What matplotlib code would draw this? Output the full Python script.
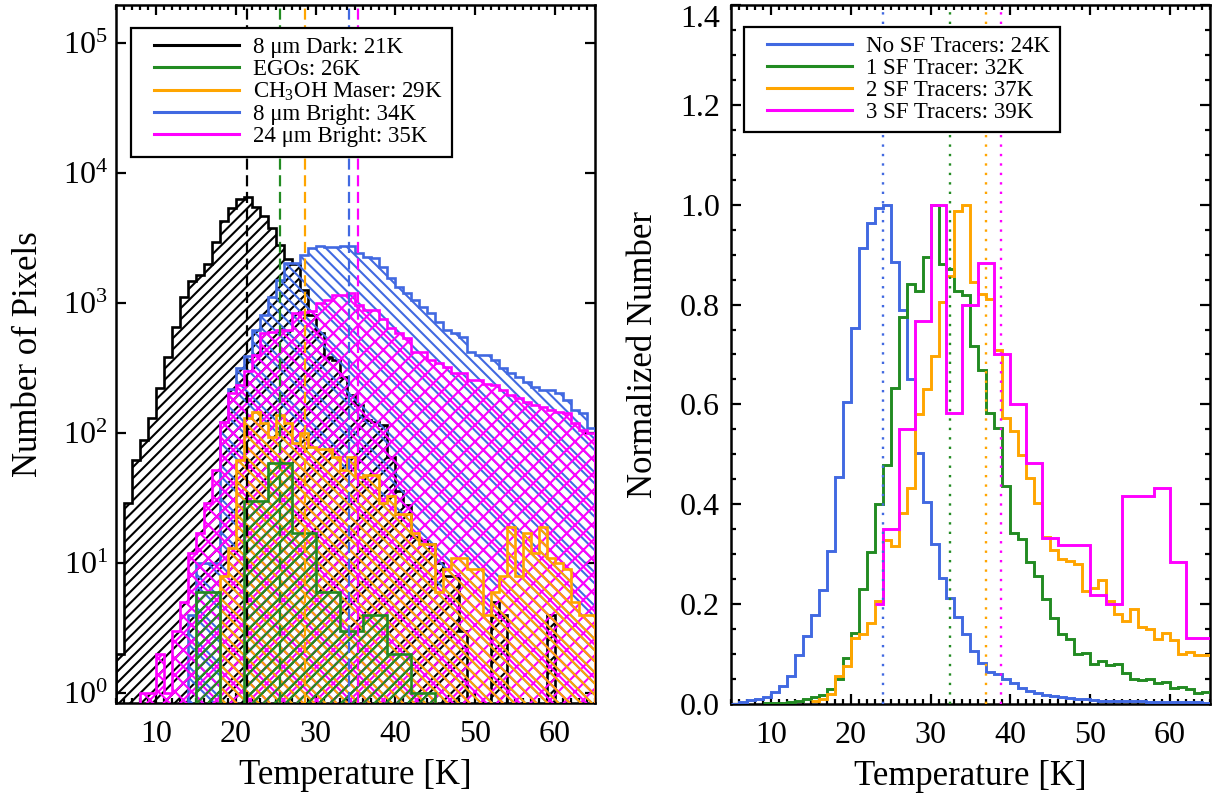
import numpy as np
import matplotlib
matplotlib.use('Agg')
import matplotlib.pyplot as plt
from matplotlib.lines import Line2D
from matplotlib.legend_handler import HandlerLine2D
from matplotlib.ticker import MultipleLocator, NullLocator, LogLocator, LogFormatterMathtext, FormatStrFormatter

plt.rcParams['font.family'] = ['Liberation Serif', 'DejaVu Serif']
plt.rcParams['mathtext.fontset'] = 'custom'
plt.rcParams['mathtext.rm'] = 'Liberation Serif'
plt.rcParams['mathtext.it'] = 'Liberation Serif:italic'
plt.rcParams['hatch.linewidth'] = 1.5

# ---- data: 1 K bins from 5 to 65 K ----
edges = np.arange(5, 66)

# left panel, pixel counts per bin
dark_cnt = [2, 29, 62, 89, 131, 222, 385, 660, 1120, 1480,
            1650, 2000, 2950, 4300, 5400, 6300, 6600, 5450, 4650, 3800,
            2800, 2200, 2000, 1250, 810, 590, 385, 365, 270, 195,
            165, 126, 121, 115, 66, 36, 28, 16, 15, 14,
            10, 8, 8, 3, 0, 0, 0, 5, 4, 0,
            0, 0, 0, 0, 4, 0, 0, 0, 0, 0]
bright8_cnt = [0, 0, 0, 0, 0, 0, 0, 0, 0, 4,
               10, 10, 10, 121, 219, 316, 390, 617, 813, 1120,
               1510, 2040, 2040, 2340, 2630, 2750, 2720, 2720, 2750, 2750,
               2420, 2260, 2230, 1900, 1560, 1330, 1200, 1050, 930, 840,
               710, 620, 590, 550, 420, 400, 400, 365, 316, 290,
               270, 247, 225, 215, 215, 203, 180, 150, 143, 110]
bright24_cnt = [0, 0, 0, 1, 1, 2, 1, 3, 5, 12,
                17, 29, 52, 121, 204, 234, 303, 400, 590, 600,
                620, 620, 835, 850, 870, 1000, 1050, 1150, 1150, 1200,
                960, 890, 890, 760, 645, 590, 540, 420, 420, 365,
                345, 320, 290, 290, 255, 255, 240, 233, 215, 195,
                186, 173, 165, 158, 150, 145, 142, 120, 105, 100]
maser_cnt = [0, 0, 0, 0, 0, 0, 0, 0, 0, 0,
             0, 0, 0, 8, 13, 62, 131, 145, 120, 93,
             138, 120, 84, 100, 78, 76, 76, 66, 52, 66,
             46, 48, 48, 29, 33, 24, 24, 17, 14, 14,
             6, 9, 11, 11, 9, 9, 4, 6, 8, 19,
             8, 17, 12, 19, 11, 10, 9, 5, 4, 4]
# EGOs use 3 K bins
ego_edges = np.arange(15, 46, 3)
ego_cnt = [6, 0, 30, 59, 17, 6, 3, 4, 2, 1]

dark_mean, ego_mean, maser_mean, b8_mean, b24_mean = 21.4, 25.5, 28.7, 34.25, 35.3

# right panel, normalized histograms (first bin temperature given separately)
none_start = 5
none_norm = [0.0, 0.003, 0.007, 0.01, 0.013, 0.023, 0.037, 0.057, 0.098, 0.137,
             0.178, 0.228, 0.307, 0.455, 0.605, 0.753, 0.913, 0.963, 0.993, 1.0,
             0.885, 0.79, 0.65, 0.502, 0.405, 0.32, 0.252, 0.213, 0.175, 0.14,
             0.107, 0.083, 0.065, 0.06, 0.05, 0.042, 0.033, 0.027, 0.022, 0.018,
             0.015, 0.013, 0.011, 0.01, 0.009, 0.007, 0.006, 0.006, 0.006, 0.005,
             0.005, 0.005, 0.004, 0.004, 0.004, 0.004, 0.003, 0.003, 0.003, 0.002]
one_start = 9
one_norm = [0.002, 0.002, 0.002, 0.003, 0.005, 0.01, 0.013, 0.017, 0.03, 0.05,
            0.093, 0.143, 0.231, 0.305, 0.401, 0.478, 0.633, 0.775, 0.842, 0.827,
            0.895, 1.0, 0.881, 0.871, 0.827, 0.82, 0.717, 0.669, 0.583, 0.553,
            0.437, 0.343, 0.33, 0.285, 0.257, 0.21, 0.173, 0.14, 0.131, 0.1,
            0.103, 0.08, 0.087, 0.078, 0.081, 0.062, 0.051, 0.049, 0.051, 0.042,
            0.045, 0.033, 0.035, 0.031, 0.022, 0.023]
two_start = 15
two_norm = [0.005, 0.01, 0.02, 0.057, 0.077, 0.133, 0.14, 0.163, 0.207, 0.329,
            0.317, 0.383, 0.433, 0.58, 0.63, 0.697, 0.805, 0.857, 0.987, 1.0,
            0.845, 0.822, 0.812, 0.71, 0.573, 0.547, 0.498, 0.453, 0.402, 0.335,
            0.309, 0.29, 0.287, 0.28, 0.226, 0.233, 0.249, 0.207, 0.181, 0.167,
            0.19, 0.155, 0.15, 0.13, 0.143, 0.129, 0.1, 0.105, 0.098, 0.098]
three_start = 23
three_norm = [0.2, 0.35, 0.35, 0.55, 0.55, 0.767, 0.767, 1.0, 1.0, 0.583,
              0.583, 0.8, 0.8, 0.883, 0.883, 0.7, 0.7, 0.6, 0.6, 0.483,
              0.483, 0.333, 0.333, 0.318, 0.318, 0.318, 0.318, 0.218, 0.218, 0.2,
              0.2, 0.417, 0.417, 0.417, 0.417, 0.433, 0.433, 0.285, 0.285, 0.133,
              0.133, 0.133]
none_mean, one_mean, two_mean, three_mean = 24.08, 32.4, 36.96, 38.8

BLACK, GREEN, ORANGE, BLUE, MAGENTA = 'black', '#228B22', '#FFA500', '#4169E1', '#FF00FF'

fig = plt.figure(figsize=(12.12, 7.96), dpi=100)
ax1 = fig.add_axes([0.0957, 0.1168, 0.3952, 0.8769])
ax2 = fig.add_axes([0.6031, 0.1156, 0.3952, 0.8781])

# ---- left panel ----
BASE = 0.3


def hatched(ax, cnt, edg, color, hatch, z):
    c = np.asarray(cnt, float)
    c = np.where(c > 0, c, BASE)
    ax.stairs(c, edg, baseline=BASE, fill=True, facecolor='none',
              edgecolor=color, hatch=hatch, lw=1.9, zorder=z)


ax1.set_yscale('log')
hatched(ax1, dark_cnt, edges, BLACK, '///', 2)
hatched(ax1, bright8_cnt, edges, BLUE, '\\\\\\', 3)
hatched(ax1, bright24_cnt, edges, MAGENTA, 'xx', 4)
hatched(ax1, maser_cnt, edges, ORANGE, '\\\\\\', 5)
hatched(ax1, ego_cnt, ego_edges, GREEN, '///', 6)

for m, c in zip([dark_mean, ego_mean, maser_mean, b8_mean, b24_mean],
                [BLACK, GREEN, ORANGE, BLUE, MAGENTA]):
    ax1.axvline(m, color=c, lw=1.6, ls=(0, (5, 2.5)), zorder=7)

ax1.set_xlim(5, 65)
ax1.set_ylim(0.84, 1.96e5)
ax1.yaxis.set_major_locator(LogLocator(base=10, numticks=10))
ax1.yaxis.set_major_formatter(LogFormatterMathtext())
ax1.yaxis.set_minor_locator(NullLocator())
ax1.set_ylabel('Number of Pixels', fontsize=25)
ax1.yaxis.set_label_coords(-0.149, 0.5)

left_handles = [Line2D([], [], color=c, lw=2.2) for c in [BLACK, GREEN, ORANGE, BLUE, MAGENTA]]
left_labels = ['8 μm Dark: 21K', 'EGOs: 26K', r'CH$_3$OH Maser: 29K',
               '8 μm Bright: 34K', '24 μm Bright: 35K']

# ---- right panel ----
for vals, start, c in [(none_norm, none_start, BLUE), (one_norm, one_start, GREEN),
                       (two_norm, two_start, ORANGE), (three_norm, three_start, MAGENTA)]:
    e = np.arange(start, start + len(vals) + 1)
    ax2.stairs(vals, e, baseline=None, color=c, lw=2.1, zorder=3)

for m, c in zip([none_mean, one_mean, two_mean, three_mean], [BLUE, GREEN, ORANGE, MAGENTA]):
    ax2.axvline(m, color=c, lw=1.7, ls=(0, (1, 3)), zorder=4)

ax2.set_xlim(5, 65)
ax2.set_ylim(0, 1.4)
ax2.yaxis.set_major_locator(MultipleLocator(0.2))
ax2.yaxis.set_minor_locator(MultipleLocator(0.05))
ax2.yaxis.set_major_formatter(FormatStrFormatter('%.1f'))
ax2.set_ylabel('Normalized Number', fontsize=25)
ax2.yaxis.set_label_coords(-0.149, 0.5)

right_handles = [Line2D([], [], color=c, lw=2.2) for c in [BLUE, GREEN, ORANGE, MAGENTA]]
right_labels = ['No SF Tracers: 24K', '1 SF Tracer: 32K', '2 SF Tracers: 37K', '3 SF Tracers: 39K']

# ---- common styling ----
for ax in (ax1, ax2):
    ax.xaxis.set_major_locator(MultipleLocator(10))
    ax.xaxis.set_minor_locator(MultipleLocator(1))
    ax.tick_params(which='both', direction='in', top=True, right=True, width=1.6, labelsize=23)
    ax.tick_params(which='major', length=7.2)
    ax.tick_params(which='minor', length=3.6)
    ax.tick_params(axis='x', pad=12)
    ax.set_xlabel('Temperature [K]', fontsize=25)
    ax.xaxis.set_label_coords(0.5, -0.08)
    for s in ax.spines.values():
        s.set_linewidth(1.8)
ax1.tick_params(axis='y', pad=6)
ax2.tick_params(axis='y', pad=8)

for ax, h, l, anchor in [(ax1, left_handles, left_labels, (0.031, 0.967)),
                         (ax2, right_handles, right_labels, (0.027, 0.969))]:
    leg = ax.legend(h, l, loc='upper left', bbox_to_anchor=anchor, borderaxespad=0,
                    fontsize=16.5, fancybox=False, edgecolor='black', framealpha=1,
                    handlelength=4.3, handletextpad=0.65, labelspacing=0.04, borderpad=0.4,
                    handler_map={Line2D: HandlerLine2D(xpad=0.6)})
    leg.get_frame().set_linewidth(1.6)
    leg.set_zorder(10)

# keep the top label of the right panel inside the frame, as in the original
fig.canvas.draw()
for t in ax2.yaxis.get_major_ticks():
    if abs(t.get_loc() - 1.4) < 1e-6:
        t.label1.set_verticalalignment('top')

fig.savefig('out.png', dpi=100)
